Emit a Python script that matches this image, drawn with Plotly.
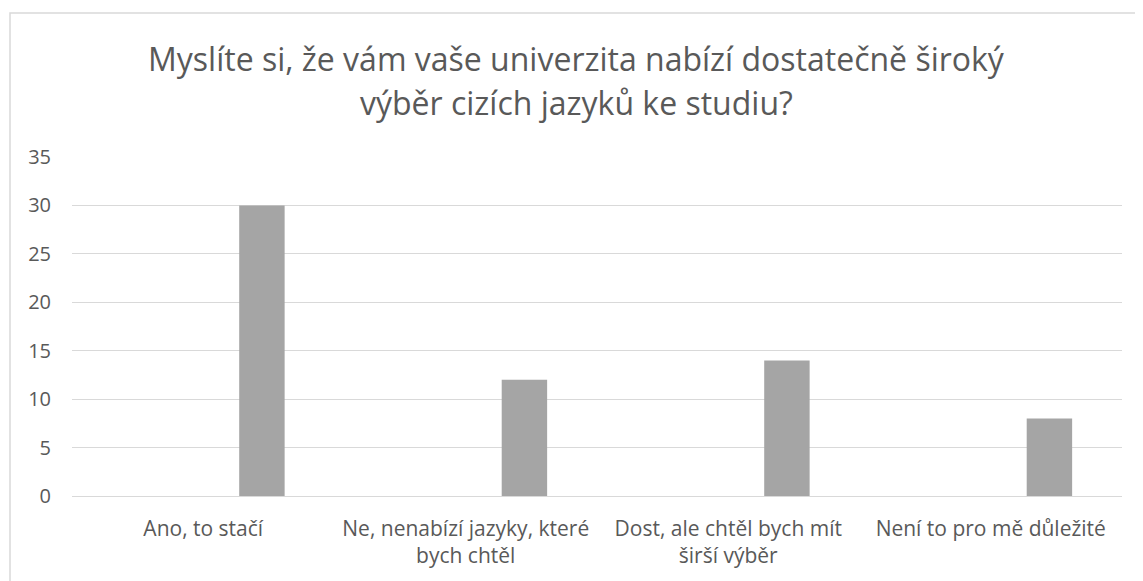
import plotly.graph_objects as go

categories = ["Ano, to stačí", "Ne, nenabízí jazyky, které<br>bych chtěl",
              "Dost, ale chtěl bych mít<br>širší výběr", "Není to pro mě důležité"]
values = [30, 12, 14, 8]
y_ticks = [0, 5, 10, 15, 20, 25, 30, 35]
title_lines = ["Myslíte si, že vám vaše univerzita nabízí dostatečně široký",
               "výběr cizích jazyků ke studiu?"]

FONT = "Open Sans"
GRAY = "#595959"
GRID = "#d9d9d9"

x_pos = list(range(len(categories)))

fig = go.Figure()
fig.add_trace(go.Bar(
    x=x_pos, y=values,
    offset=0.137, width=0.173,
    marker=dict(color="#a5a5a5", line=dict(width=0)),
    showlegend=False,
))

# page has an 8px body margin; figure coordinates = page coordinates - 8
W, H = 1135, 573
l, r, t, b = 64, 21, 149, 85
pw, ph = W - l - r, H - t - b

def py(page_y):
    """page pixel y -> paper fraction"""
    return (H - b - (page_y - 8)) / ph

def px(page_x):
    return (page_x - 8 - l) / pw

annotations = []
for line, yc in zip(title_lines, [58, 102]):
    annotations.append(dict(text=line, xref="paper", yref="paper", x=px(576), y=py(yc),
                            xanchor="center", yanchor="middle", showarrow=False,
                            font=dict(family=FONT, size=32, color=GRAY)))

fig.update_layout(
    width=W, height=H,
    margin=dict(l=l, r=r, t=t, b=b),
    paper_bgcolor="white", plot_bgcolor="white",
    font=dict(family=FONT, color=GRAY, size=20),
    annotations=annotations,
    xaxis=dict(range=[-0.5, len(categories) - 0.5], tickvals=x_pos, ticktext=categories,
               showgrid=False, zeroline=False, showline=False, ticks="",
               ticklabelstandoff=18,
               tickfont=dict(family=FONT, size=21, color=GRAY)),
    yaxis=dict(range=[0, 35], tickvals=y_ticks, showgrid=True, gridcolor=GRID, gridwidth=1.3,
               zeroline=True, zerolinecolor=GRID, zerolinewidth=1.3, showline=False, ticks="",
               ticklabelstandoff=20,
               tickfont=dict(family=FONT, size=20, color=GRAY)),
    shapes=[dict(type="rect", xref="paper", yref="paper",
                 x0=px(10), x1=1.5, y0=-1, y1=py(13),
                 line=dict(color=GRID, width=1.5), fillcolor="rgba(0,0,0,0)", layer="below")],
)

fig.write_html("out.html")
